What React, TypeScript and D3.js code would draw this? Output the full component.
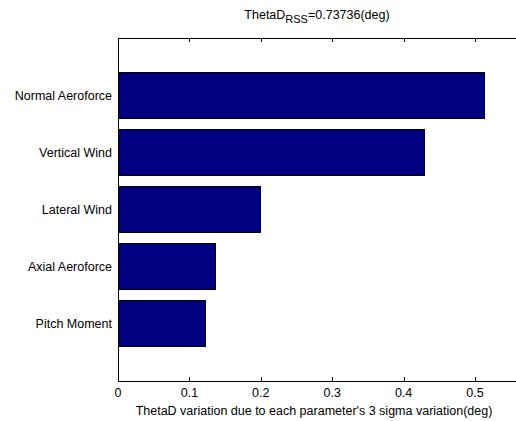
import React from "react";
import * as d3 from "d3";

const categories = ["Pitch Moment", "Axial Aeroforce", "Lateral Wind", "Vertical Wind", "Normal Aeroforce"];
const values = [0.122, 0.136, 0.2, 0.4286, 0.514];
const xTicks = [0, 0.1, 0.2, 0.3, 0.4, 0.5, 0.6];
const xTickLabels = ["0", "0.1", "0.2", "0.3", "0.4", "0.5"];
const titleMain = "ThetaD";
const titleSub = "RSS";
const titleRest = "=0.73736(deg)";
const xLabel = "ThetaD variation due to each parameter's 3 sigma variation(deg)";

export default function App() {
  const W = 516, H = 421;
  const left = 118, top = 38, bottom = 381;
  const x = d3.scaleLinear().domain([0, 0.6]).range([left, left + 0.6 * 714]);
  const y = d3.scaleLinear().domain([0, 6]).range([bottom, top]);
  const barH = y(0) - y(0.8);
  const font = "'Liberation Sans', Arial, Helvetica, sans-serif";
  const fs = 12.5;
  const right = x(0.6);
  return (
    <svg width={W} height={H} style={{ position: "absolute", left: 0, top: 0, background: "#fff" }} fontFamily={font}>
      <rect x={0} y={0} width={W} height={H} fill="#fff" />
      {categories.map((c, i) => (
        <rect key={c} x={x(0)} y={y(i + 1 + 0.4)} width={x(values[i]) - x(0)} height={barH}
          fill="#000080" stroke="#000" strokeWidth={1} shapeRendering="crispEdges" />
      ))}
      <g stroke="#000" strokeWidth={1} shapeRendering="crispEdges">
        <line x1={left} x2={right} y1={top + 0.5} y2={top + 0.5} />
        <line x1={left} x2={right} y1={bottom + 0.5} y2={bottom + 0.5} />
        <line x1={left + 0.5} x2={left + 0.5} y1={top} y2={bottom + 1} />
        {xTicks.map((t) => (
          <g key={t}>
            <line x1={Math.round(x(t)) + 0.5} x2={Math.round(x(t)) + 0.5} y1={top} y2={top + 4} />
            <line x1={Math.round(x(t)) + 0.5} x2={Math.round(x(t)) + 0.5} y1={bottom} y2={bottom - 4} />
          </g>
        ))}
      </g>
      {xTickLabels.map((t, i) => (
        <text key={t} x={x(xTicks[i])} y={397} fontSize={fs} textAnchor="middle" fill="#000">{t}</text>
      ))}
      {categories.map((c, i) => (
        <text key={c} x={112} y={y(i + 1) + 4.5} fontSize={fs} textAnchor="end" fill="#000">{c}</text>
      ))}
      <text x={314} y={415} fontSize={fs} textAnchor="middle" fill="#000">{xLabel}</text>
      <text x={317} y={19} fontSize={fs} textAnchor="middle" fill="#000">
        {titleMain}
        <tspan dy={4} fontSize={11}>{titleSub}</tspan>
        <tspan dy={-4}>{titleRest}</tspan>
      </text>
    </svg>
  );
}
